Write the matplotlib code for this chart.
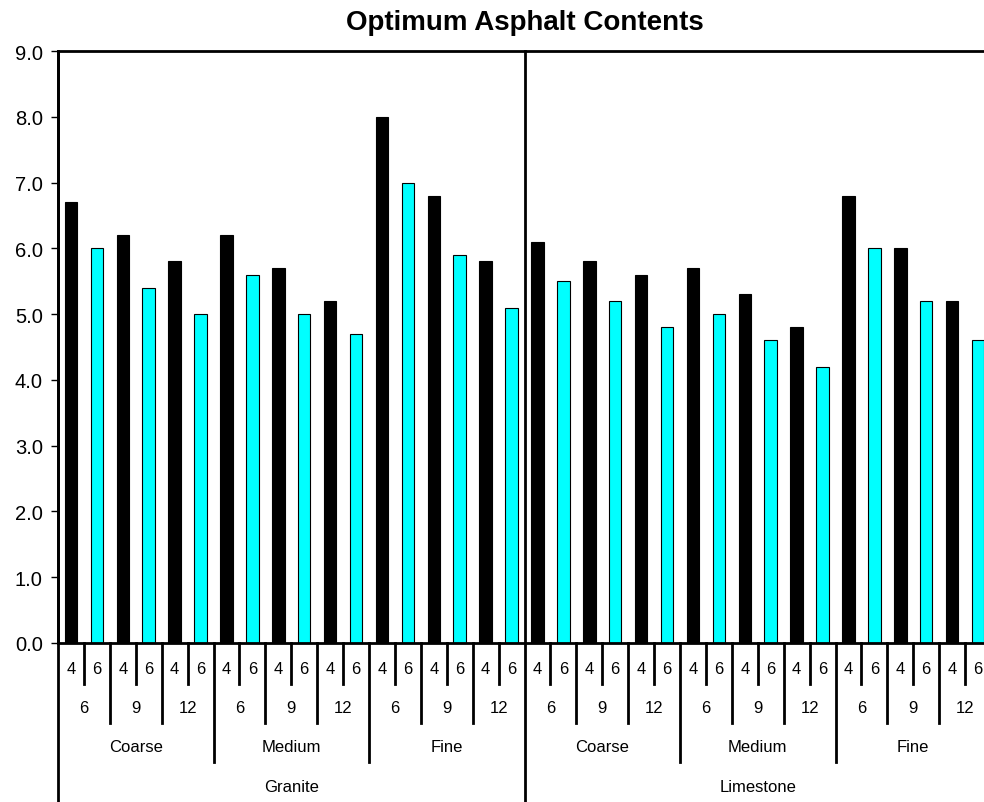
import matplotlib.pyplot as plt
import matplotlib.transforms as mtransforms
import numpy as np

plt.rcParams['font.family'] = ['Liberation Sans', 'DejaVu Sans']

# hierarchy of the x axis
aggregates = ["Granite", "Limestone"]
gradations = ["Coarse", "Medium", "Fine"]
sizes = ["6", "9", "12"]
contents = ["4", "6"]

granite = [6.7, 6.0, 6.2, 5.4, 5.8, 5.0,
           6.2, 5.6, 5.7, 5.0, 5.2, 4.7,
           8.0, 7.0, 6.8, 5.9, 5.8, 5.1]
limestone = [6.1, 5.5, 5.8, 5.2, 5.6, 4.8,
             5.7, 5.0, 5.3, 4.6, 4.8, 4.2,
             6.8, 6.0, 6.0, 5.2, 5.2, 4.6]

values = granite + limestone
n = len(values)
x = np.arange(n)
colors = ["black" if i % 2 == 0 else "#00FFFF" for i in range(n)]

fig = plt.figure(figsize=(9.84, 8.03), dpi=100)
ax = fig.add_axes([58 / 984, (803 - 644) / 803, (991 - 58) / 984, (644 - 52) / 803])

ax.bar(x, values, width=0.48, color=colors, edgecolor="black", linewidth=0.8)

ax.set_xlim(-0.5, n - 0.5)
ax.set_ylim(0, 9)
ax.set_yticks(np.arange(0, 9.1, 1.0))
ax.set_yticklabels([f"{v:.1f}" for v in np.arange(0, 9.1, 1.0)], fontsize=14.5)
ax.tick_params(axis="y", length=5, width=1, pad=6)
ax.set_xticks([])

for s in ["top", "left", "bottom"]:
    ax.spines[s].set_linewidth(2)
ax.spines["right"].set_visible(False)

ax.set_title("Optimum Asphalt Contents", fontsize=20, fontweight="bold", pad=16)

trans = mtransforms.blended_transform_factory(ax.transData, ax.transAxes)
h = 644 - 52
def ay(py):
    return (644 - py) / h

lv_end = [ay(685), ay(724), ay(763), ay(803)]
lv_text = [ay(670), ay(709), ay(748), ay(788)]

# separator lines between categories
for b in range(n + 1):
    pos = b - 0.5
    if b % 18 == 0:
        lvl = 3
    elif b % 6 == 0:
        lvl = 2
    elif b % 2 == 0:
        lvl = 1
    else:
        lvl = 0
    if b == 0:
        ax.plot([pos, pos], [1, lv_end[3]], color="black", lw=2, transform=trans, clip_on=False)
        continue
    top = 1 if lvl == 3 else 0
    ax.plot([pos, pos], [top, lv_end[lvl]], color="black", lw=2, transform=trans, clip_on=False)

# labels
for i in range(n):
    ax.text(i, lv_text[0], contents[i % 2], transform=trans, ha="center", va="center", fontsize=12)
for j in range(n // 2):
    ax.text(2 * j + 0.5, lv_text[1], sizes[j % 3], transform=trans, ha="center", va="center", fontsize=12)
for k in range(n // 6):
    ax.text(6 * k + 2.5, lv_text[2], gradations[k % 3], transform=trans, ha="center", va="center", fontsize=12)
for m in range(n // 18):
    ax.text(18 * m + 8.5, lv_text[3], aggregates[m], transform=trans, ha="center", va="center", fontsize=12)

fig.savefig("out.png", dpi=100)
